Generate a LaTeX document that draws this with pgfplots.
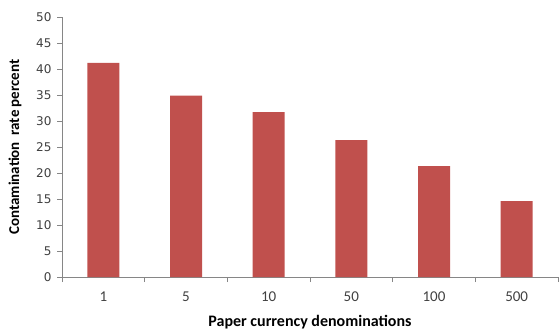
\documentclass[border=0pt]{standalone}
\usepackage{fontspec}
\setmainfont{Carlito}
\newfontfamily\ytickfont{DejaVu Sans}
\usepackage{pgfplots}
\pgfplotsset{compat=1.18}
\definecolor{barred}{HTML}{C0504D}
\definecolor{axgray}{HTML}{868686}
\begin{document}
\begin{tikzpicture}
\begin{axis}[
  scale only axis,
  width=496pt, height=260pt,
  xmin=-0.5, xmax=5.5,
  ymin=0, ymax=50,
  axis x line*=bottom,
  axis y line*=left,
  axis line style={axgray, line width=0.8pt},
  ytick={0,5,...,50},
  xtick={0,...,5},
  xticklabels={1,5,10,50,100,500},
  minor xtick={-0.5,0.5,...,5.5},
  tick align=outside,
  major tick length=5pt,
  minor tick length=5pt,
  x tick style={draw=none},
  minor x tick style={draw=axgray, line width=0.8pt},
  y tick style={draw=axgray, line width=0.8pt},
  /pgf/number format/assume math mode=true,
  yticklabel style={font=\ytickfont\fontsize{12}{14}\selectfont, color=black!75, anchor=east, xshift=-2pt},
  xticklabel style={font=\fontsize{15}{17}\selectfont, color=black!75, anchor=center, yshift=-15pt},
  xticklabel shift=0pt,
  every axis x label/.style={at={([yshift=-45pt]axis description cs:0.5,0)}, anchor=center},
  every axis y label/.style={at={([xshift=-47pt]axis description cs:0,0.5)}, anchor=center, rotate=90},
  xlabel={Paper currency denominations},
  ylabel={Contamination\ \ rate percent},
  xlabel style={font=\bfseries\fontsize{16}{18}\selectfont},
  ylabel style={font=\bfseries\fontsize{15}{17}\selectfont},
  ybar, bar width=32pt,
]
\addplot[fill=barred, draw=none] coordinates {(0,41.2) (1,34.9) (2,31.7) (3,26.3) (4,21.3) (5,14.6)};
\end{axis}
\pgfresetboundingbox
\path[use as bounding box] ([shift={(-62pt,-54pt)}]current axis.south west) rectangle ([shift={(2pt,17pt)}]current axis.north east);
\end{tikzpicture}
\end{document}
